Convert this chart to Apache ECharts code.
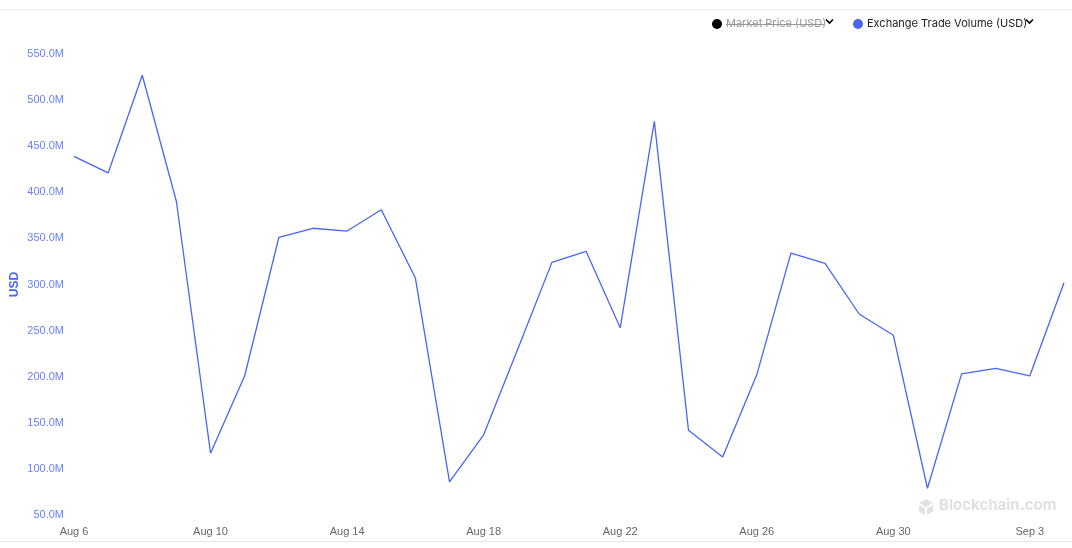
<!DOCTYPE html>
<html>
<head>
<meta charset="utf-8">
<script src="https://cdn.jsdelivr.net/npm/echarts@6/dist/echarts.min.js"></script>
<style>
  html,body{margin:0;padding:0;background:#fff;}
  #main{width:1072px;height:548px;}
</style>
</head>
<body>
<div id="main"></div>
<script>
// days shown on the x axis
const days = ["Aug 6","Aug 7","Aug 8","Aug 9","Aug 10","Aug 11","Aug 12","Aug 13","Aug 14","Aug 15",
  "Aug 16","Aug 17","Aug 18","Aug 19","Aug 20","Aug 21","Aug 22","Aug 23","Aug 24","Aug 25",
  "Aug 26","Aug 27","Aug 28","Aug 29","Aug 30","Aug 31","Sep 1","Sep 2","Sep 3","Sep 4"];
// exchange trade volume, millions of USD
const volumeM = [439,421,527,390,117,201,351,361,358,381,
  307,86,137,230,324,336,253,477,142,113,
  202,334,323,268,245,79,203,209,201,302];

let myChart = echarts.init(document.getElementById("main"));
const blue = "#4a65f2";

myChart.setOption({
  animation:false,
  grid:{ left:74, right:8, top:54, bottom:33, containLabel:false, outerBoundsMode:"none" },
  xAxis:{
    type:"category",
    boundaryGap:false,
    data:days,
    axisLine:{ show:false },
    axisTick:{ show:false },
    axisLabel:{
      color:"#666",
      fontFamily:"Liberation Sans, Arial",
      fontSize:11,
      margin:11,
      interval:3
    }
  },
  yAxis:{
    type:"value",
    min:50e6,
    max:550e6,
    interval:50e6,
    name:"USD",
    nameLocation:"middle",
    nameRotate:90,
    nameGap:53,
    nameMoveOverlap:false,
    nameTextStyle:{ color:blue, fontWeight:"bold", fontSize:12, fontFamily:"Liberation Sans, Arial" },
    splitLine:{ show:false },
    axisLine:{ show:false },
    axisTick:{ show:false },
    axisLabel:{
      color:"#6a80f5",
      fontFamily:"Liberation Sans, Arial",
      fontSize:11,
      margin:10,
      formatter:v => (v/1e6).toFixed(1)+"M"
    }
  },
  series:[{
    name:"Exchange Trade Volume (USD)",
    type:"line",
    data:volumeM.map(v => v*1e6),
    showSymbol:false,
    lineStyle:{ color:blue, width:1.3 },
    itemStyle:{ color:blue }
  }],
  graphic:[
    // frame lines top and bottom
    { type:"line", shape:{x1:0,y1:10,x2:1072,y2:10}, style:{stroke:"#e6e6e6",lineWidth:1} },
    { type:"line", shape:{x1:0,y1:541.5,x2:1072,y2:541.5}, style:{stroke:"#e6e6e6",lineWidth:1} },
    // legend: market price (switched off)
    { type:"circle", shape:{cx:717,cy:24,r:5}, style:{fill:"#000"} },
    { type:"text", left:726, top:18, style:{ text:"Market Price (USD)", fill:"#999", font:"11px Inter, Liberation Sans" } },
    { type:"line", shape:{x1:726,y1:24.5,x2:825,y2:24.5}, style:{stroke:"#999",lineWidth:1} },
    { type:"polyline", shape:{points:[[826,19.5],[829.5,23],[833,19.5]]}, style:{stroke:"#000",lineWidth:1.6,fill:null} },
    // legend: exchange trade volume
    { type:"circle", shape:{cx:858,cy:24,r:5}, style:{fill:blue} },
    { type:"text", left:867, top:18, style:{ text:"Exchange Trade Volume (USD)", fill:"#222", font:"11px Inter, Liberation Sans" } },
    { type:"polyline", shape:{points:[[1026,19.5],[1029.5,23],[1033,19.5]]}, style:{stroke:"#000",lineWidth:1.6,fill:null} },
    // watermark
    { type:"polygon", shape:{points:[[926,499],[933,503],[926,507],[919,503]]}, style:{fill:"#e2e2e2"} },
    { type:"polygon", shape:{points:[[919,505],[925,508.5],[925,515],[919,511.5]]}, style:{fill:"#e2e2e2"} },
    { type:"polygon", shape:{points:[[927,508.5],[933,505],[933,511.5],[927,515]]}, style:{fill:"#e2e2e2"} },
    { type:"text", left:939, top:498, style:{ text:"Blockchain.com", fill:"#e0e0e0", font:"bold 15px Inter, Liberation Sans" } }
  ]
});
</script>
</body>
</html>
